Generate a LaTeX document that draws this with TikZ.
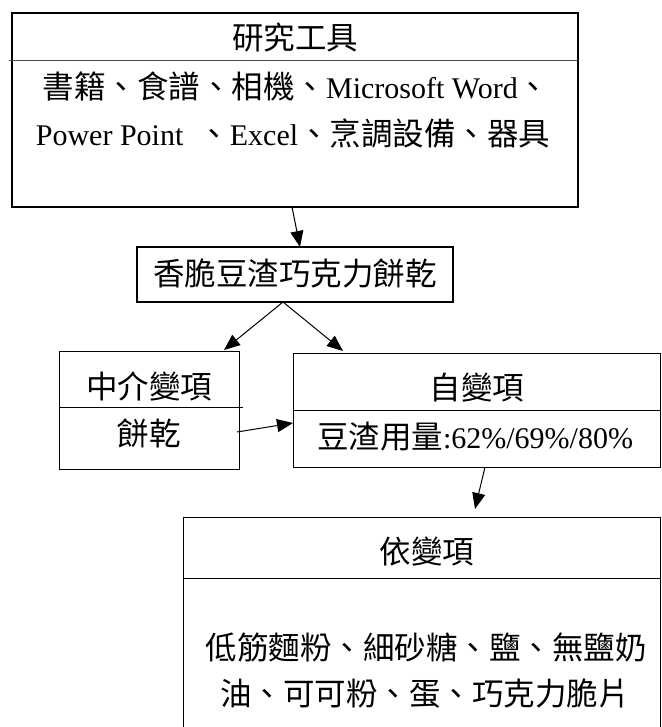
\documentclass[tikz,border=0pt]{standalone}
\usepackage{fontspec}
\setmainfont{Liberation Serif}
\newfontfamily\cjk{Noto Sans CJK TC}[Scale=1.05]
\usetikzlibrary{arrows.meta}
\begin{document}
\begin{tikzpicture}[x=1pt,y=-1pt,
  box/.style={draw=black, inner sep=0pt, outer sep=0pt},
  thickbox/.style={box, line width=2pt},
  thinbox/.style={box, line width=1pt},
  divider/.style={line width=1pt},
  arr/.style={line width=1pt, -{Triangle[length=16pt,width=13pt]}},
  txt/.style={anchor=base, inner sep=0pt, font=\fontsize{30}{36}\selectfont}]
\useasboundingbox (0,0) rectangle (661,727);

% boxes
\node[thickbox, minimum width=566pt, minimum height=194pt] (tools) at (295,110) {};
\node[thickbox, minimum width=316pt, minimum height=55pt] (prod) at (295,274.5) {};
\node[thinbox, minimum width=180pt, minimum height=118pt] (med) at (149,410) {};
\node[thinbox, minimum width=367pt, minimum height=114pt] (indep) at (476.5,410) {};
\node[thinbox, minimum width=477pt, minimum height=250pt] (dep) at (421.5,642) {};

% dividers
\draw[divider, black!70] (9,61) -- (578,61);
\draw[divider] (59,407) -- (243,407);
\draw[divider] (293,410) -- (661,410);
\draw[divider] (183,578) -- (661,578);

% texts
\node[txt] (tToolsHead) at (295,49.5) {{\cjk 研究工具}};
\node[txt] (tTools1) at (296,98.5) {{\cjk 書籍、食譜、相機、}Microsoft Word{\cjk 、}};
\node[txt] (tTools2) at (293,146) {Power Point\ \ {\cjk 、}Excel{\cjk 、烹調設備、器具}};
\node[txt] (tProd) at (295,285.5) {{\cjk 香脆豆渣巧克力餅乾}};
\node[txt] (tMedHead) at (149,398) {{\cjk 中介變項}};
\node[txt] (tMed) at (149,445) {{\cjk 餅乾}};
\node[txt] (tIndHead) at (477,399.5) {{\cjk 自變項}};
\node[txt] (tInd) at (475,448) {{\cjk 豆渣用量}:62\%/69\%/80\%};
\node[txt] (tDepHead) at (427,563) {{\cjk 依變項}};
\node[txt] (tDep1) at (426,659.5) {{\cjk 低筋麵粉、細砂糖、鹽、無鹽奶}};
\node[txt] (tDep2) at (425,705) {{\cjk 油、可可粉、蛋、巧克力脆片}};

% connectors
\draw[arr] ([xshift=-3pt]tools.south) -- ([xshift=5pt]prod.north);
\draw[arr] ([xshift=-12pt]prod.south) -- ([xshift=-15pt,yshift=1pt]med.north east);
\draw[arr] ([xshift=-12pt]prod.south) -- ([xshift=50pt,yshift=2pt]indep.north west);
\draw[arr] ([xshift=-2pt,yshift=-22pt]med.east) -- ([yshift=-13pt]indep.west);
\draw[arr] ([xshift=8.5pt]indep.south) -- ([xshift=53.5pt,yshift=8pt]dep.north);
\end{tikzpicture}
\end{document}
